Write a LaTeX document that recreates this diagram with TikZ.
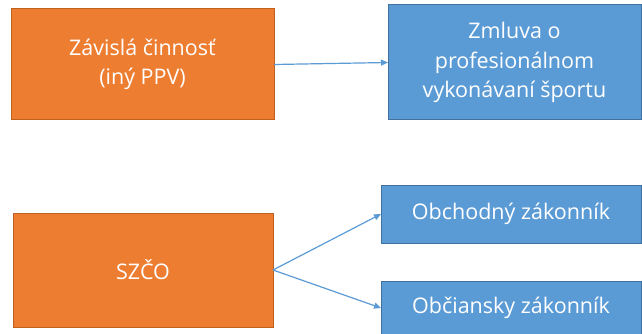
\documentclass[tikz,border=0pt]{standalone}
\usepackage{fontspec}
\setmainfont{Open Sans}
\usetikzlibrary{arrows.meta}
\definecolor{org}{HTML}{ED7D31}
\definecolor{orgb}{HTML}{C0601F}
\definecolor{blu}{HTML}{5B9BD5}
\definecolor{blub}{HTML}{41719C}
\begin{document}
\begin{tikzpicture}[x=1pt,y=-1pt,
  lbl/.style={text=white,align=center,inner sep=0pt,outer sep=0pt,font=\fontsize{21.5}{29.5}\selectfont},
  obox/.style={lbl,draw=orgb,fill=org,line width=1pt},
  bbox/.style={lbl,draw=blub,fill=blu,line width=1pt},
  conn/.style={draw=blu,line width=1.2pt,-{Triangle[length=7pt,width=6pt]}}]
\useasboundingbox (0,0) rectangle (642,334);
\begin{scope}
\clip (0,0) rectangle (642,334);
\node[obox,minimum width=263pt,minimum height=111pt] (a) at (142.5,64.5) {Závislá činnosť\\(iný PPV)};
\node[bbox,minimum width=253pt,minimum height=115pt] (b) at (514.5,62.5) {Zmluva o\\profesionálnom\\vykonávaní športu};
\node[obox,minimum width=260pt,minimum height=114pt] (c) at (143,270) {SZČO};
\node[bbox,minimum width=260pt,minimum height=58pt] (d) at (511,214) {Obchodný zákonník};
\node[bbox,minimum width=260pt,minimum height=54pt] (e) at (511,308) {Občiansky zákonník};
\draw[conn] (a.east) -- (b.west);
\draw[conn] (c.east) -- (d.west);
\draw[conn] (c.east) -- (e.west);
\end{scope}
\end{tikzpicture}
\end{document}
